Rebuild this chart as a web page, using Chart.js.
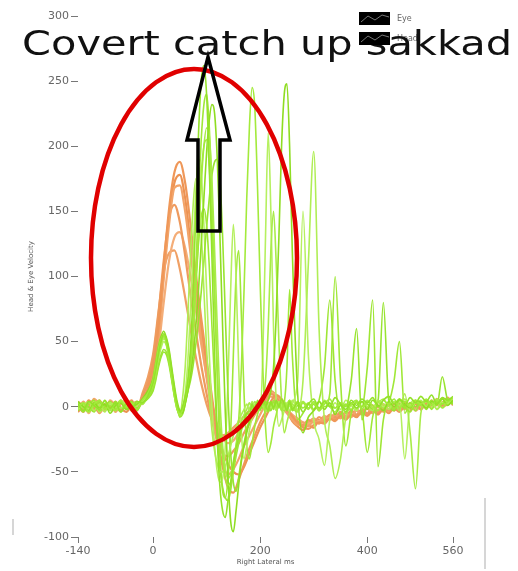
<!DOCTYPE html>
<html>
<head>
<meta charset="utf-8">
<script src="https://cdn.jsdelivr.net/npm/chart.js@4.4.0/dist/chart.umd.min.js"></script>
<style>
  html, body { margin: 0; padding: 0; background: #fff; }
  #chart { display: block; }
</style>
</head>
<body>
<canvas id="chart" width="518" height="571"></canvas>
<script>
// time axis (ms) and tick labels
const xTicks = [-140, 0, 200, 400, 560];
const yTicks = [-100, -50, 0, 50, 100, 150, 200, 250, 300];

const headTimeMs = [
  -140, -130, -120, -110, -100, -90, -80, -70, -60, -50,
  -40, -30, -20, -10, 0, 10, 20, 30, 40, 50,
  60, 70, 80, 90, 100, 110, 120, 130, 140, 150,
  160, 170, 180, 190, 200, 210, 220, 230, 240, 250,
  260, 270, 280, 290, 300, 310, 320, 330, 340, 350,
  360, 370, 380, 390, 400, 410, 420, 430, 440, 450,
  460, 470, 480, 490, 500, 510, 520, 530, 540, 550,
  560
];

const eyeTimeMs = [
  -140, -130, -120, -110, -100, -90, -80, -70, -60, -50,
  -40, -30, -20, -10, 0, 5, 10, 15, 20, 25,
  30, 35, 40, 45, 50, 55, 60, 65, 70, 75,
  80, 85, 90, 95, 100, 105, 110, 115, 120, 125,
  130, 135, 140, 145, 150, 155, 160, 165, 170, 175,
  180, 185, 190, 195, 200, 205, 210, 215, 220, 225,
  230, 235, 240, 245, 250, 255, 260, 270, 280, 290,
  300, 310, 320, 330, 340, 350, 360, 370, 380, 390,
  400, 410, 420, 430, 440, 450, 460, 470, 480, 490,
  500, 510, 520, 530, 540, 550, 560
];

// head velocity traces (deg/s)
const headA = [
  3, -2, 5, 0, -4, 2, -1, 4, -3, 1,
  5, -2, 6, 14, 30, 60, 108, 152, 180, 188,
  172, 140, 102, 68, 36, 8, -22, -46, -62, -66,
  -56, -44, -32, -22, -12, -4, 4, 9, 6, -1,
  -7, -12, -16, -17, -14, -12, -13, -9, -11, -7,
  -10, -6, -8, -4, -7, -3, -6, -2, -5, -1,
  -4, 0, -3, 2, -2, 3, -1, 4, 1, 5,
  3
];
const headB = [
  -3, 4, -1, 6, 2, -2, 3, -4, 2, 5,
  -1, 3, 4, 10, 24, 52, 98, 140, 168, 170,
  150, 118, 84, 52, 22, -4, -28, -44, -52, -48,
  -40, -30, -22, -14, -6, 2, 8, 5, 0, -5,
  -10, -14, -12, -15, -11, -13, -8, -10, -6, -9,
  -5, -8, -3, -6, -1, -5, 0, -4, 1, -3,
  2, -2, 3, -1, 4, 0, 5, 1, 3, 6,
  2
];
const headC = [
  1, -4, 3, -2, 5, -1, 4, 0, -3, 3,
  2, -1, 8, 18, 36, 70, 112, 145, 155, 142,
  116, 86, 58, 32, 10, -10, -26, -36, -38, -34,
  -28, -20, -13, -6, 0, 5, 10, 7, 2, -3,
  -8, -11, -14, -10, -12, -8, -10, -6, -8, -4,
  -7, -3, -6, -2, -5, 1, -3, 2, -2, 3,
  -1, 4, 0, 3, -2, 4, 1, 6, 2, 4,
  5
];
const headD = [
  -2, 2, -5, 3, 0, -3, 5, 1, -2, 4,
  -3, 2, 3, 8, 20, 44, 80, 112, 130, 134,
  122, 100, 74, 48, 24, 2, -14, -24, -28, -26,
  -20, -14, -8, -2, 3, 7, 11, 8, 4, -2,
  -6, -9, -12, -13, -10, -11, -7, -9, -5, -8,
  -4, -6, -2, -5, 0, -4, 1, -2, 2, -1,
  3, -1, 2, -3, 1, 4, -1, 3, 0, 2,
  4
];
const headE = [
  4, 0, -3, 2, -5, 1, 3, -2, 5, -1,
  3, -3, 10, 22, 40, 72, 104, 118, 120, 106,
  84, 60, 38, 18, 2, -10, -18, -22, -20, -16,
  -12, -7, -3, 1, 5, 9, 12, 9, 3, -2,
  -9, -13, -15, -12, -9, -12, -10, -7, -9, -5,
  -8, -4, -7, -3, -6, -2, -4, 0, -3, 2,
  0, 3, -2, 4, 1, 2, -1, 5, 3, 7,
  1
];
const headF = [
  -4, 1, 2, -3, 4, -2, 0, 3, -1, -4,
  1, 4, 2, 12, 28, 58, 102, 146, 172, 178,
  160, 126, 92, 60, 30, 4, -18, -34, -44, -50,
  -52, -46, -36, -26, -16, -8, 0, 6, 4, -3,
  -11, -15, -18, -14, -16, -10, -12, -7, -10, -6,
  -9, -5, -7, -2, -6, -1, -5, 1, -3, 0,
  -2, 2, -1, 4, 0, 5, 2, 3, 6, 4,
  6
];

// eye velocity traces (deg/s)
const eyeA = [
  2, -3, 4, 1, -2, 5, -1, 3, -4, 2,
  -2, 4, 3, 8, 18, 28, 40, 50, 56, 52,
  42, 28, 14, 2, -4, 0, 8, 20, 45, 90,
  150, 210, 250, 262, 240, 185, 115, 40, -25, -62,
  -80, -85, -72, -58, -44, -32, -24, -16, -10, -5,
  -6, 2, -4, 5, -2, 6, 1, -3, 4, -1,
  5, 0, 6, 2, -3, 4, -2, 3, -4, 2,
  6, -1, 4, 0, 7, 2, -2, 5, 1, 6,
  3, 7, 0, 5, 8, 2, 6, 1, 7, 3,
  8, 4, 9, 2, 7, 5, 8
];
const eyeB = [
  -1, 3, -4, 2, 5, -2, 1, -3, 4, 0,
  3, -2, 5, 10, 20, 32, 44, 52, 55, 48,
  36, 22, 8, -2, -6, -2, 6, 18, 34, 60,
  98, 140, 178, 200, 205, 185, 140, 85, 30, -15,
  -40, -55, -60, -58, -48, -30, -10, 30, 90, 160,
  215, 245, 230, 170, 95, 30, -15, -35, -28, -15,
  -6, 2, -3, 4, -1, 5, 0, -4, 3, -2,
  4, -3, 2, 6, -1, 3, -5, 2, 5, -2,
  4, 1, -3, 5, 2, 6, -1, 4, 0, 5,
  2, 6, 1, 5, -1, 4, 7
];
const eyeC = [
  4, 0, -3, 3, -1, 2, -5, 1, 3, -2,
  0, 2, 6, 12, 22, 34, 46, 54, 58, 53,
  44, 30, 16, 4, -3, -5, 2, 12, 24, 40,
  62, 90, 125, 160, 195, 220, 232, 225, 190, 130,
  60, -5, -55, -88, -96, -80, -60, -42, -30, -20,
  -12, -6, -1, 3, -2, 4, 0, 5, 12, 30,
  70, 130, 200, 240, 248, 200, 120, 10, -20, -8,
  -3, 4, -2, 3, -6, 1, -4, 3, -1, 4,
  -2, 5, 1, -3, 4, 0, 6, 2, -1, 5,
  3, -1, 4, 2, 6, 1, 5
];
const eyeD = [
  -2, 1, 4, -3, 2, -4, 3, 0, -1, 4,
  -3, 1, 4, 9, 17, 26, 38, 47, 52, 50,
  40, 26, 12, 0, -6, 6, 30, 70, 115, 155,
  175, 168, 135, 90, 45, 8, -18, -34, -44, -50,
  -50, -46, -38, -30, -22, -16, -10, -6, -2, 2,
  -3, 4, 0, -2, 5, 1, -4, 3, -1, 2,
  -3, 4, 1, -2, 3, 0, 5, -2, 20, 110,
  196, 60, -10, -30, -55, -40, -8, 3, -2, 4,
  0, -3, 5, 2, -2, 4, 1, 6, -1, 3,
  5, 0, 4, -2, 6, 3, 5
];
const eyeE = [
  1, -4, 2, 5, -3, 0, 4, -2, 3, -1,
  2, -2, 4, 7, 14, 22, 32, 40, 44, 42,
  34, 22, 10, 0, -8, -6, 2, 16, 38, 66,
  98, 126, 146, 152, 140, 108, 62, 18, -22, -48,
  -62, -70, -72, -64, -50, -38, -28, -18, -11, -6,
  -2, 3, -3, 2, -1, 4, 0, -4, 3, -2,
  4, -1, 3, -3, 2, 5, -2, 4, -1, 3,
  -2, 5, 30, 82, 20, -6, 2, -3, 4, 0,
  30, 82, -46, -10, 3, -2, 5, 0, -4, 3,
  1, 5, -2, 4, 2, 6, 3
];
const eyeF = [
  3, -1, -4, 2, 0, 4, -3, 1, 5, -2,
  1, 4, 2, 9, 19, 30, 42, 50, 53, 49,
  38, 24, 9, -1, -7, -3, 4, 14, 30, 55,
  90, 130, 170, 200, 214, 208, 175, 120, 60, 5,
  -30, -48, -55, -52, -42, -30, -20, -12, -6, -2,
  3, -2, 4, 0, -3, 5, 20, 60, 120, 150,
  110, 50, 5, -20, -12, -4, 2, -3, 4, -1,
  3, -2, 5, 0, -4, 3, 1, -2, 4, 0,
  5, -1, 3, 6, 0, 4, -3, 10, -20, -63,
  -5, 4, 1, 6, 2, 5, 4
];
const eyeG = [
  -3, 2, 0, -4, 3, 1, -2, 4, -1, 2,
  4, -1, 3, 6, 12, 20, 30, 38, 42, 40,
  32, 20, 8, -2, -5, -1, 5, 12, 20, 32,
  48, 66, 88, 112, 138, 160, 178, 188, 190, 175,
  130, 70, 10, -35, -58, -65, -54, -40, -28, -18,
  -10, -4, 1, -2, 3, -1, 4, 0, -3, 2,
  -1, 3, 0, 4, -2, 2, -3, 1, 4, -1,
  2, -3, 4, 1, -1, 3, 0, 20, 60, -10,
  2, -2, 4, 80, 5, -3, 2, -1, 3, 0,
  4, -2, 3, 1, 23, 5, 2
];
const eyeH = [
  0, 3, -2, 4, -4, 1, 2, -3, 5, 1,
  -2, 3, 2, 7, 15, 25, 36, 45, 50, 47,
  38, 25, 12, 1, -5, -2, 10, 35, 75, 120,
  165, 190, 180, 140, 90, 40, 0, -30, -50, -58,
  -55, -30, 20, 90, 140, 100, 30, -20, -40, -30,
  -18, -8, 0, 3, -2, 40, 130, 210, 150, 60,
  5, -15, -10, -3, 2, -4, 3, 20, 150, 40,
  -10, -25, -45, -10, 3, -2, 5, 1, -3, 4,
  2, -1, 5, 0, 3, -2, 4, -40, 2, 5,
  1, 4, -1, 5, 3, 2, 6
];
const eyeI = [
  -1, 2, -3, 0, 4, -2, 3, 1, -4, 2,
  1, -3, 4, 8, 16, 27, 39, 48, 54, 51,
  40, 26, 11, 0, -6, -4, 3, 12, 28, 60,
  105, 160, 205, 232, 240, 215, 160, 90, 20, -35,
  -65, -70, -55, -20, 40, 100, 120, 70, 10, -30,
  -40, -28, -15, -6, 0, 4, -2, 3, -1, 5,
  0, 4, -2, 3, 30, 90, 40, -10, -5, 2,
  -3, 4, 0, 10, 100, 20, -30, -5, 3, -2,
  -35, -8, 4, -1, 3, 20, 50, -5, 2, -3,
  4, 1, 5, -2, 3, 6, 2
];

const headTraces = [headA, headB, headC, headD, headE, headF];
const eyeTraces = [eyeA, eyeB, eyeC, eyeD, eyeE, eyeF, eyeG, eyeH, eyeI];

const headColors = ['#ef9758', '#f2a46a', '#ee9a5e', '#f4ad78', '#f0a065', '#ec9252'];
const eyeColors = ['#94e22a', '#a3ea3c', '#8fdd22', '#b0ee55', '#9ee634', '#a8ec48', '#98e430', '#b6f060', '#a0e838'];

function toPoints(times, values) {
    return times.map((t, i) => ({ x: t, y: values[i] }));
}

const datasets = [];
eyeTraces.forEach((vals, i) => {
    datasets.push({
        label: 'Eye',
        data: toPoints(eyeTimeMs, vals),
        borderColor: eyeColors[i],
        borderWidth: 1.6,
        pointRadius: 0,
        cubicInterpolationMode: 'monotone'
    });
});
headTraces.forEach((vals, i) => {
    datasets.push({
        label: 'Head',
        data: toPoints(headTimeMs, vals),
        borderColor: headColors[i],
        borderWidth: 2.2,
        pointRadius: 0,
        cubicInterpolationMode: 'monotone'
    });
});

// overlays: annotation ellipse, arrow, legend and big caption
const overlayPlugin = {
    id: 'overlay',
    afterDraw(chart) {
        const ctx = chart.ctx;
        ctx.save();

        // scan artifacts at the edges
        ctx.strokeStyle = '#d6d6d6';
        ctx.lineWidth = 2;
        ctx.beginPath();
        ctx.moveTo(13, 519); ctx.lineTo(13, 535);
        ctx.moveTo(485, 498); ctx.lineTo(485, 569);
        ctx.stroke();

        // red ellipse
        ctx.strokeStyle = '#e00000';
        ctx.lineWidth = 4.5;
        ctx.beginPath();
        ctx.ellipse(194, 258, 103, 189, 0, 0, Math.PI * 2);
        ctx.stroke();

        // hollow black arrow
        ctx.strokeStyle = '#000';
        ctx.lineWidth = 3.5;
        ctx.lineJoin = 'miter';
        ctx.beginPath();
        ctx.moveTo(198, 231);
        ctx.lineTo(198, 140);
        ctx.lineTo(187, 140);
        ctx.lineTo(208, 57);
        ctx.lineTo(230, 140);
        ctx.lineTo(220, 140);
        ctx.lineTo(220, 231);
        ctx.closePath();
        ctx.stroke();

        // legend text
        ctx.fillStyle = '#666';
        ctx.font = '8px "DejaVu Sans"';
        ctx.textBaseline = 'middle';
        ctx.fillText('Eye', 397, 19);
        ctx.fillText('Head', 397, 39);

        // caption, stretched to the width it has in the picture
        ctx.fillStyle = '#111';
        ctx.font = '33px "DejaVu Sans"';
        ctx.textBaseline = 'alphabetic';
        const caption = 'Covert catch up sakkad';
        const w = ctx.measureText(caption).width;
        ctx.save();
        ctx.translate(22, 55);
        ctx.scale(490 / w, 1);
        ctx.fillText(caption, 0, 0);
        ctx.restore();

        // legend boxes
        [12, 32].forEach(y => {
            ctx.fillStyle = '#000';
            ctx.fillRect(359, y, 31, 13);
            ctx.strokeStyle = '#777';
            ctx.lineWidth = 1;
            ctx.beginPath();
            ctx.moveTo(361, y + 10);
            ctx.lineTo(368, y + 4);
            ctx.lineTo(375, y + 8);
            ctx.lineTo(382, y + 3);
            ctx.lineTo(389, y + 5);
            ctx.stroke();
        });

        ctx.restore();
    }
};

const ctx = document.getElementById('chart').getContext('2d');
const chart = new Chart(ctx, {
    type: 'line',
    data: { datasets: datasets },
    options: {
        responsive: false,
        animation: false,
        devicePixelRatio: 1,
        layout: { padding: { left: 0, right: 65, top: 16, bottom: 0 } },
        plugins: {
            legend: { display: false },
            tooltip: { enabled: false }
        },
        scales: {
            x: {
                type: 'linear',
                min: -140,
                max: 560,
                afterBuildTicks: function(axis) {
                    axis.ticks = xTicks.map(v => ({ value: v }));
                },
                afterFit: function(axis) { axis.height = 34; },
                border: { display: false },
                grid: { drawOnChartArea: false, drawTicks: true, tickLength: 6, color: '#777' },
                ticks: {
                    color: '#666',
                    padding: 2,
                    maxRotation: 0,
                    autoSkip: false,
                    font: { family: 'DejaVu Sans', size: 11 }
                },
                title: {
                    display: true,
                    text: 'Right Lateral ms',
                    color: '#555',
                    font: { family: 'DejaVu Sans', size: 7 },
                    padding: { top: 0, bottom: 5 }
                }
            },
            y: {
                min: -100,
                max: 300,
                afterBuildTicks: function(axis) {
                    axis.ticks = yTicks.map(v => ({ value: v }));
                },
                afterFit: function(axis) { axis.width = 78; },
                border: { display: false },
                grid: { drawOnChartArea: false, drawTicks: true, tickLength: 7, color: '#777' },
                ticks: {
                    color: '#666',
                    padding: 2,
                    font: { family: 'DejaVu Sans', size: 11 }
                },
                title: {
                    display: true,
                    text: 'Head & Eye Velocity',
                    color: '#555',
                    font: { family: 'DejaVu Sans', size: 7 },
                    padding: { top: 27, bottom: 0 }
                }
            }
        }
    },
    plugins: [overlayPlugin]
});
</script>
</body>
</html>
